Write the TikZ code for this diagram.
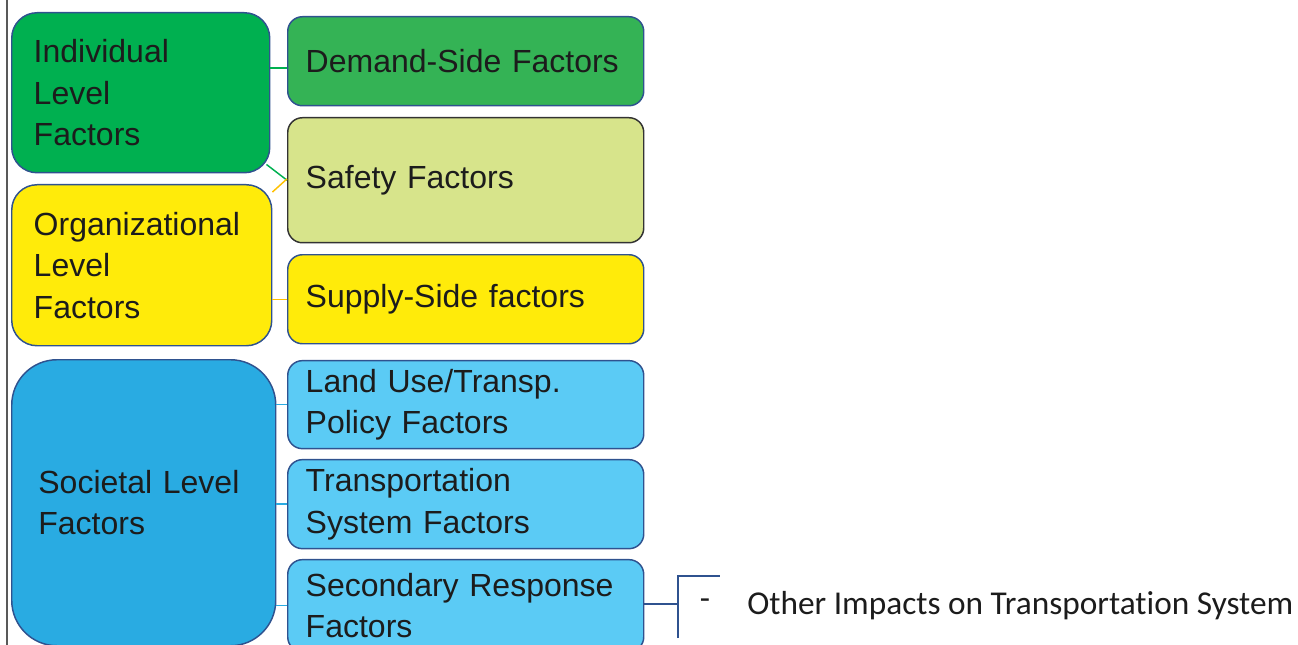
\documentclass[tikz,border=0pt]{standalone}
\usepackage{fontspec}
\setmainfont{Liberation Sans}
\newfontfamily\notefont[Ligatures=NoCommon]{Carlito}
\usetikzlibrary{positioning}
\definecolor{edgeblue}{HTML}{2F528F}
\definecolor{indgreen}{HTML}{00B050}
\definecolor{demgreen}{HTML}{34B355}
\definecolor{safegreen}{HTML}{D7E48B}
\definecolor{orgyellow}{HTML}{FFEB0A}
\definecolor{linkorange}{HTML}{FFC000}
\definecolor{socblue}{HTML}{29ABE2}
\definecolor{subblue}{HTML}{5BCBF5}
\definecolor{inktext}{HTML}{1C1C1C}

\begin{document}
\begin{tikzpicture}[x=0.75pt,y=0.75pt]
        \tikzstyle{level}=[rectangle,draw=edgeblue,line width=1.1pt,rounded corners=19pt,anchor=north west,inner xsep=16.5pt,align=left,text=inktext,font=\fontsize{24}{31}\selectfont]
        \tikzstyle{factor}=[level,rounded corners=11pt,inner xsep=13.5pt,text width=240pt]
        \tikzstyle{link}=[line width=1.1pt]
        \useasboundingbox (0,0) rectangle (1298,-645);
        \draw[gray!70!black,line width=0.8pt] (7,0) -- (7,-645);
        % left column
        \node[level,fill=indgreen,text width=160.5pt,minimum height=120pt] (ind) at (11,-12) {Individual\\Level\\Factors};
        \node[level,fill=orgyellow,text width=162pt,minimum height=120.75pt] (org) at (11,-184) {Organizational\\Level\\Factors};
        \node[level,fill=socblue,rounded corners=34pt,inner xsep=20pt,text width=158pt,minimum height=214.5pt] (soc) at (11,-359) {Societal Level\\Factors};
        % right column
        \node[factor,fill=demgreen,minimum height=66.75pt] (dem) at (287,-16) {Demand-Side Factors};
        \node[factor,fill=safegreen,draw=black!80,minimum height=93.75pt] (saf) [below=7.9pt of dem] {Safety Factors};
        \node[factor,fill=orgyellow,minimum height=66.75pt] (sup) [below=7.9pt of saf] {Supply-Side factors};
        \node[factor,fill=subblue,minimum height=66pt] (land) [below=11.6pt of sup] {Land Use/Transp.\\Policy Factors};
        \node[factor,fill=subblue,minimum height=66.75pt] (trn) [below=7.15pt of land] {Transportation\\System Factors};
        \node[factor,fill=subblue,minimum height=69pt] (sec) [below=7.15pt of trn] {Secondary Response\\Factors};
        % links
        \draw[link,indgreen] (ind.east |- 0,-68) -- (dem.west |- 0,-68);
        \draw[link,indgreen] ([shift={(-4,9)}]ind.south east) -- (saf.west);
        \draw[link,linkorange] ([shift={(0,-8)}]org.north east) -- ([yshift=1]saf.west);
        \draw[link,linkorange] (org.east |- sup.west) -- (sup.west);
        \draw[link,socblue] (soc.east |- land.west) -- (land.west);
        \draw[link,socblue] (soc.east |- trn.west) -- (trn.west);
        \draw[link,socblue] (soc.east |- sec.west) -- (sec.west);
        % other impacts
        \coordinate (brk) at (678,-604);
        \coordinate (brktop) at (678,-576);
        \coordinate (brkbot) at (678,-638);
        \coordinate (brkend) at (720,-576);
        \draw[link,edgeblue] (sec.east |- brk) -- (brk);
        \draw[link,edgeblue] (brkbot) -- (brktop) -- (brkend);
        \node[text=inktext,font=\notefont\fontsize{25}{30}\selectfont] (dash) at (705,-604) {-};
        \node[text=inktext,font=\notefont\fontsize{25}{30}\selectfont,anchor=west,inner sep=0pt] (note) at (747,-606) {Other Impacts on Transportation System};
\end{tikzpicture}
\end{document}
